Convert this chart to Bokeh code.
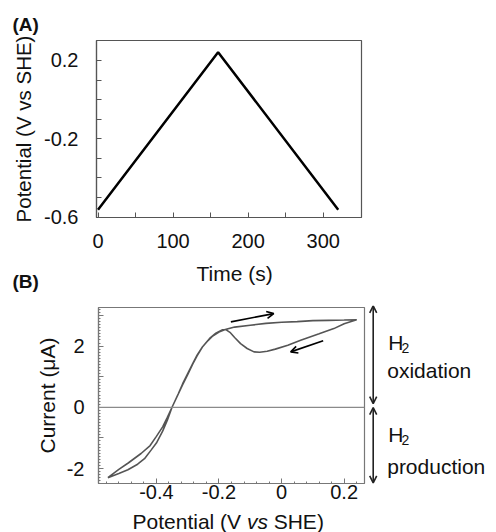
from bokeh.plotting import figure
from bokeh.layouts import column, row
from bokeh.models import (FixedTicker, SingleIntervalTicker, Range1d, Label,
                          Arrow, OpenHead, Span, Title)
from bokeh.embed import file_html
from bokeh.resources import INLINE

# ---------------- data ----------------
# Panel A: potential waveform
time_s = [0, 160, 320]
potential_v = [-0.5625, 0.242, -0.5625]

# Panel B: cyclic voltammogram (forward then return sweep)
fwd_e = [-0.555, -0.52, -0.491, -0.46, -0.438, -0.417, -0.40, -0.38, -0.365,
         -0.35, -0.33, -0.316, -0.30, -0.284, -0.27, -0.253, -0.235, -0.22,
         -0.20, -0.18, -0.15, -0.10, -0.05, 0.0, 0.05, 0.10, 0.15, 0.20, 0.24]
fwd_i = [-2.30, -2.16, -2.04, -1.86, -1.68, -1.40, -1.17, -0.78, -0.42,
         0.0, 0.44, 0.77, 1.10, 1.43, 1.70, 1.97, 2.18, 2.33,
         2.46, 2.54, 2.62, 2.68, 2.74, 2.78, 2.80, 2.83, 2.84, 2.85, 2.86]
ret_e = [0.24, 0.20, 0.167, 0.12, 0.061, 0.02, -0.02, -0.046, -0.07, -0.088,
         -0.11, -0.131, -0.15, -0.165, -0.178, -0.19, -0.21, -0.23, -0.253,
         -0.27, -0.284, -0.30, -0.316, -0.333, -0.35, -0.365, -0.38, -0.40,
         -0.42, -0.449, -0.49, -0.52, -0.555]
ret_i = [2.86, 2.73, 2.57, 2.40, 2.19, 2.03, 1.90, 1.83, 1.80, 1.81,
         1.92, 2.08, 2.28, 2.45, 2.54, 2.53, 2.42, 2.25, 1.97,
         1.68, 1.41, 1.07, 0.74, 0.37, 0.0, -0.33, -0.64, -0.95,
         -1.25, -1.51, -1.82, -2.03, -2.30]

# tick labels
a_xticks = [0, 100, 200, 300]
a_yticks = [-0.6, -0.2, 0.2]
a_ylabels = {-0.6: "-0.6", -0.2: "-0.2", 0.2: "0.2"}
b_xticks = [-0.4, -0.2, 0.0, 0.2]
b_xlabels = {-0.4: "-0.4", -0.2: "-0.2", 0.0: "0", 0.2: "0.2"}
b_ylabels = {-2: "-2", -1: "", 1: "", 3: ""}

FONT = "Liberation Sans"
TXT = "#111111"
W = 496


def style_axes(p, color):
    p.grid.visible = False
    p.outline_line_color = color
    p.outline_line_width = 1.2
    p.background_fill_color = "white"
    p.border_fill_color = "white"
    for ax in (p.xaxis[0], p.yaxis[0]):
        ax.axis_line_color = color
        ax.axis_line_width = 1.2
        ax.major_tick_line_color = color
        ax.minor_tick_line_color = color
        ax.major_tick_out = 0
        ax.minor_tick_out = 0
        ax.major_label_text_font = FONT
        ax.major_label_text_font_size = "20px"
        ax.major_label_text_color = TXT
        ax.axis_label_text_font = FONT
        ax.axis_label_text_font_size = "21px"
        ax.axis_label_text_font_style = "normal"
        ax.axis_label_text_color = TXT


def blank(width, height, x_range, y_range):
    s = figure(width=width, height=height, x_range=x_range, y_range=y_range,
               output_backend="svg", toolbar_location=None,
               x_axis_location=None, y_axis_location=None, frame_align=False,
               min_border=0, min_border_left=0, min_border_right=0,
               min_border_top=0, min_border_bottom=0)
    s.grid.visible = False
    s.outline_line_color = None
    s.background_fill_color = "white"
    s.border_fill_color = "white"
    return s


def strip(width, top, bottom):
    """Blank figure whose data coordinates are page pixels (for free text)."""
    return blank(width, bottom - top, Range1d(0, width), Range1d(bottom, top))


def text(fig, x, y, t, size="21px", style="normal"):
    fig.add_layout(Label(x=x, y=y, text=t, text_font=FONT, text_font_size=size,
                         text_font_style=style, text_color=TXT,
                         text_baseline="alphabetic", text_align="left"))


# ---------------- Panel A ----------------
p1 = figure(width=W, height=257, x_range=Range1d(-2, 351),
            y_range=Range1d(-0.602, 0.302), output_backend="svg",
            toolbar_location=None, frame_align=False,
            min_border_left=96, min_border_right=135,
            min_border_top=40, min_border_bottom=40)
style_axes(p1, "#555555")
p1.add_layout(Title(text="(A)", align="left", offset=-84, standoff=12,
                    text_font=FONT, text_font_size="19px",
                    text_font_style="bold", text_color=TXT), "above")
p1.xaxis.ticker = FixedTicker(ticks=a_xticks, minor_ticks=[50, 150, 250])
p1.yaxis.ticker = FixedTicker(ticks=a_yticks,
                              minor_ticks=[-0.5, -0.4, -0.3, -0.1, 0.0, 0.1])
p1.yaxis.major_label_overrides = a_ylabels
for ax in (p1.xaxis[0], p1.yaxis[0]):
    ax.major_tick_in = 5
    ax.minor_tick_in = 5
p1.yaxis.axis_label = "Potential (V vs SHE)"
p1.yaxis.axis_label_text_font_size = "20.5px"
p1.xaxis.major_label_standoff = 16
p1.yaxis.major_label_standoff = 18
p1.yaxis.axis_label_standoff = 6
p1.line(time_s, potential_v, line_color="black", line_width=2.5)

# ---------------- middle strip: Time (s) and (B) ----------------
mid = strip(W, 257, 305)
text(mid, 196, 273, "Time (s)")
text(mid, 12, 281, "(B)", size="19px", style="bold")

# ---------------- Panel B ----------------
B_TOP, B_BOTTOM, B_H = 2, 26, 204
p2 = figure(width=366, height=B_H, x_range=Range1d(-0.585, 0.265),
            y_range=Range1d(-2.49, 3.26), output_backend="svg",
            toolbar_location=None, frame_align=False,
            min_border_left=98, min_border_right=2,
            min_border_top=B_TOP, min_border_bottom=B_BOTTOM)
style_axes(p2, "#777777")
p2.xaxis.ticker = FixedTicker(
    ticks=b_xticks,
    minor_ticks=[-0.56, -0.52, -0.48, -0.44, -0.36, -0.32, -0.28, -0.24,
                 -0.16, -0.12, -0.08, -0.04, 0.04, 0.08, 0.12, 0.16, 0.24])
p2.xaxis.major_label_overrides = b_xlabels
p2.yaxis.ticker = SingleIntervalTicker(interval=1, num_minor_ticks=10)
p2.yaxis.major_label_overrides = b_ylabels
for ax in (p2.xaxis[0], p2.yaxis[0]):
    ax.major_tick_in = 5
    ax.minor_tick_in = 2
p2.yaxis.axis_label = "Current (μA)"
p2.xaxis.major_label_standoff = 1
p2.yaxis.major_label_standoff = 14
p2.yaxis.axis_label_standoff = 5

p2.add_layout(Span(location=0, dimension="width", line_color="#8a8a8a",
                   line_width=1.2))
p2.line(fwd_e + ret_e, fwd_i + ret_i, line_color="#555555", line_width=1.6)

# sweep-direction arrows
for (xs, ys, xe, ye) in [(-0.162, 2.79, -0.025, 3.06), (0.133, 2.17, 0.029, 1.81)]:
    p2.add_layout(Arrow(x_start=xs, y_start=ys, x_end=xe, y_end=ye,
                        line_color="black", line_width=1.6,
                        end=OpenHead(size=7, line_color="black", line_width=1.6)))

# ---------------- right strip: region arrows and labels ----------------
y0, y1 = p2.y_range.start, p2.y_range.end
scale = (B_H - B_TOP - B_BOTTOM) / (y1 - y0)
right = blank(W - 366, B_H, Range1d(366, W),
              Range1d(y0 - B_BOTTOM / scale, y1 + B_TOP / scale))

for (ys, ye) in [(0.12, 3.31), (-0.01, -2.47)]:
    right.add_layout(Arrow(x_start=372.7, y_start=ys, x_end=372.7, y_end=ye,
                           line_color="#222222", line_width=1.6,
                           start=OpenHead(size=7, line_color="#222222", line_width=1.6),
                           end=OpenHead(size=7, line_color="#222222", line_width=1.6)))

text(right, 387.7, 2.12, "H")
text(right, 401.0, 1.94, "2", size="14px")
text(right, 386.7, 1.21, "oxidation")
text(right, 387.7, -0.88, "H")
text(right, 401.0, -1.06, "2", size="14px")
text(right, 386.7, -1.92, "production")

# ---------------- bottom strip: x-axis title of panel B ----------------
bot = strip(W, 509, 532)
text(bot, 132, 521, "Potential (V")
text(bot, 246.4, 521, "vs", style="italic")
text(bot, 273.2, 521, "SHE)")

layout = column(p1, mid, row(p2, right, spacing=0), bot, spacing=0)
open("out.html", "w").write(file_html(layout, INLINE))
